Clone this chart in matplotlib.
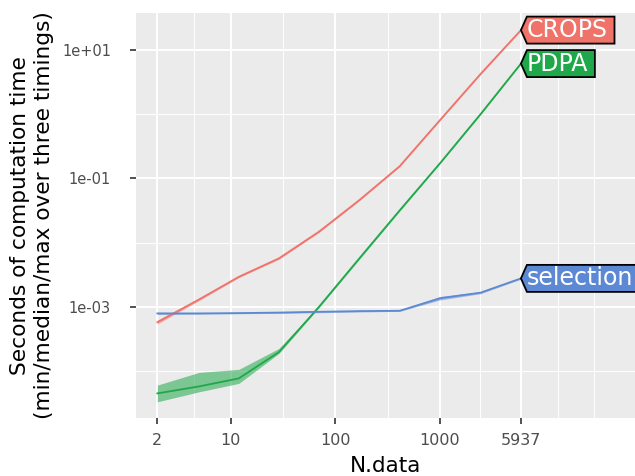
import numpy as np
import matplotlib
matplotlib.use("Agg")
import matplotlib.pyplot as plt
from matplotlib.patches import Polygon
from matplotlib.transforms import IdentityTransform

# ---------------- data ----------------
n_data = [2, 5, 12, 29, 70, 170, 413, 1004, 2442, 5937]

crops_med = [5.75e-4, 1.30e-3, 2.93e-3, 5.68e-3, 0.0148, 0.0459, 0.155, 0.813, 4.22, 20.4]
crops_min = [5.40e-4, 1.25e-3, 2.85e-3, 5.50e-3, 0.0144, 0.0450, 0.152, 0.800, 4.15, 20.0]
crops_max = [6.20e-4, 1.36e-3, 3.00e-3, 5.85e-3, 0.0152, 0.0470, 0.158, 0.830, 4.30, 20.8]

pdpa_med = [4.48e-5, 5.75e-5, 7.67e-5, 1.97e-4, 1.00e-3, 5.68e-3, 0.0318, 0.173, 1.00, 6.14]
pdpa_min = [3.31e-5, 4.74e-5, 6.41e-5, 1.88e-4, 9.70e-4, 5.50e-3, 0.0310, 0.170, 0.98, 6.05]
pdpa_max = [6.03e-5, 9.51e-5, 1.06e-4, 2.25e-4, 1.03e-3, 5.85e-3, 0.0326, 0.176, 1.02, 6.25]

sel_med = [7.89e-4, 7.89e-4, 7.98e-4, 8.13e-4, 8.36e-4, 8.57e-4, 8.67e-4, 1.36e-3, 1.66e-3, 2.77e-3]
sel_min = [7.60e-4, 7.70e-4, 7.80e-4, 7.90e-4, 8.10e-4, 8.30e-4, 8.50e-4, 1.28e-3, 1.60e-3, 2.70e-3]
sel_max = [8.20e-4, 8.10e-4, 8.20e-4, 8.40e-4, 8.60e-4, 8.80e-4, 8.90e-4, 1.45e-3, 1.72e-3, 2.85e-3]

series = [
    ("CROPS", crops_med, crops_min, crops_max, "#F0736A"),
    ("PDPA", pdpa_med, pdpa_min, pdpa_max, "#1FA84A"),
    ("selection", sel_med, sel_min, sel_max, "#5D89D4"),
]

x_breaks = [2, 10, 100, 1000, 5937]
x_break_labels = ["2", "10", "100", "1000", "5937"]
y_breaks = [1e-3, 1e-1, 1e1]
y_break_labels = ["1e-03", "1e-01", "1e+01"]

# ---------------- figure ----------------
W, H = 635, 476
fig = plt.figure(figsize=(W / 100, H / 100), dpi=100)
fig.patch.set_facecolor("white")
left, right, top, bottom = 136, 635, 13, 418
ax = fig.add_axes([left / W, 1 - bottom / H, (right - left) / W, (bottom - top) / H])
ax.set_facecolor("#EBEBEB")
ax.set_xscale("log")
ax.set_yscale("log")
ax.set_xlim(10 ** 0.097, 10 ** 4.863)
ax.set_ylim(10 ** -4.732, 10 ** 1.576)

# grid (ggplot style)
for v in [10 ** 0.650, 10 ** 1.5, 10 ** 2.5, 10 ** 3.387, 10 ** 4.123, 10 ** 4.473]:
    ax.axvline(v, color="white", lw=0.7, zorder=0)
for v in [1e-4, 1e-2, 1e0]:
    ax.axhline(v, color="white", lw=0.7, zorder=0)
for v in x_breaks:
    ax.axvline(v, color="white", lw=1.4, zorder=0)
for v in y_breaks:
    ax.axhline(v, color="white", lw=1.4, zorder=0)

for name, med, lo, hi, col in series:
    ax.fill_between(n_data, lo, hi, color=col, alpha=0.55, lw=0, zorder=2)
    ax.plot(n_data, med, color=col, lw=1.3, zorder=3)

ax.set_xticks(x_breaks)
ax.set_xticklabels(x_break_labels)
ax.set_yticks(y_breaks)
ax.set_yticklabels(y_break_labels)
ax.minorticks_off()
ax.tick_params(axis="x", length=4, width=1.2, color="#333333", labelsize=11.5,
               labelcolor="#4D4D4D", pad=6.5)
ax.tick_params(axis="y", length=4, width=1.2, color="#333333", labelsize=10.5,
               labelcolor="#4D4D4D", pad=14)
for s in ax.spines.values():
    s.set_visible(False)

ax.set_xlabel("N.data", fontsize=15.5, color="black")
ax.xaxis.label.set_va("top")
ax.xaxis.set_label_coords(0.5, -(456 - bottom) / (bottom - top))
ax.set_ylabel("Seconds of computation time\n(min/median/max over three timings)",
              fontsize=15.6, color="black", linespacing=1.2)
ax.yaxis.label.set_va("center")
ax.yaxis.set_label_coords(-(left - 32) / (right - left), 0.5)

# ---------------- direct labels (polygon boxes) ----------------
fig.canvas.draw()
renderer = fig.canvas.get_renderer()
for name, med, lo, hi, col in series:
    xd, yd = ax.transData.transform((n_data[-1], med[-1]))
    t = ax.annotate(name, xy=(n_data[-1], med[-1]), xytext=(4.0, 0),
                    textcoords="offset points", ha="left", va="center",
                    color="white", fontsize=17, zorder=6, annotation_clip=False)
    fig.canvas.draw()
    bb = t.get_window_extent(renderer)
    hh = 13.5
    x1 = bb.x1 + 7
    verts = [(xd, yd), (xd + 6, yd + hh), (x1, yd + hh), (x1, yd - hh), (xd + 6, yd - hh)]
    poly = Polygon(verts, closed=True, facecolor=col, edgecolor="black", lw=1.3,
                   transform=IdentityTransform(), zorder=5, clip_on=False)
    ax.add_artist(poly)

fig.savefig("out.png", dpi=100)
